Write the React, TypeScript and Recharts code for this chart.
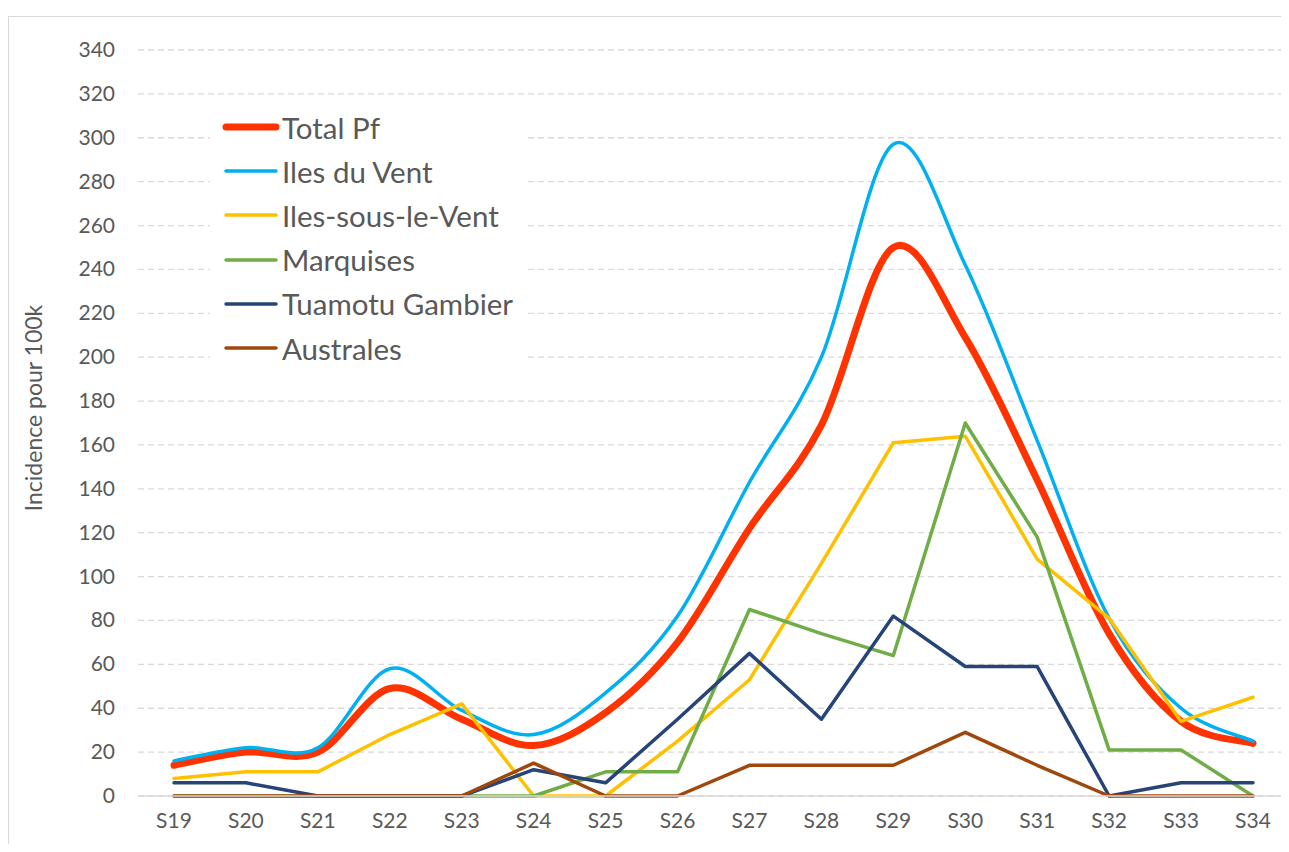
import { LineChart, Line, XAxis, YAxis, CartesianGrid, Legend } from 'recharts'

const weeks = ['S19', 'S20', 'S21', 'S22', 'S23', 'S24', 'S25', 'S26', 'S27', 'S28', 'S29', 'S30', 'S31', 'S32', 'S33', 'S34']
const totalPf = [14, 20, 20, 49, 35, 23, 38, 70, 122, 169, 250, 209, 144, 74, 34, 24]
const ilesDuVent = [16, 22, 22, 58, 39, 28, 47, 82, 143, 200, 297, 242, 162, 81, 40, 25]
const ilesSousLeVent = [8, 11, 11, 28, 42, 0, 0, 25, 53, 106, 161, 164, 108, 81, 34, 45]
const marquises = [0, 0, 0, 0, 0, 0, 11, 11, 85, 74, 64, 170, 118, 21, 21, 0]
const tuamotuGambier = [6, 6, 0, 0, 0, 12, 6, 35, 65, 35, 82, 59, 59, 0, 6, 6]
const australes = [0, 0, 0, 0, 0, 15, 0, 0, 14, 14, 14, 29, 14, 0, 0, 0]
const yTicks = [0, 20, 40, 60, 80, 100, 120, 140, 160, 180, 200, 220, 240, 260, 280, 300, 320, 340]

const SERIES = [
  { key: 'total', name: 'Total Pf', color: '#FF3300', width: 7, smooth: true, values: totalPf },
  { key: 'idv', name: 'Iles du Vent', color: '#00B0F0', width: 3.5, smooth: true, values: ilesDuVent },
  { key: 'islv', name: 'Iles-sous-le-Vent', color: '#FFC000', width: 3.5, smooth: false, values: ilesSousLeVent },
  { key: 'marq', name: 'Marquises', color: '#70AD47', width: 3.5, smooth: false, values: marquises },
  { key: 'tg', name: 'Tuamotu Gambier', color: '#264478', width: 3.5, smooth: false, values: tuamotuGambier },
  { key: 'aus', name: 'Australes', color: '#9E480E', width: 3.5, smooth: false, values: australes },
]

const data = weeks.map((w, i) => {
  const row: Record<string, string | number> = { week: w }
  for (const s of SERIES) row[s.key] = s.values[i]
  return row
})

// excel-style smoothing (catmull-rom through the points)
function excelSmooth(context: any) {
  let pts: number[][] = []
  return {
    areaStart() {},
    areaEnd() {},
    lineStart() { pts = [] },
    point(x: number, y: number) { pts.push([+x, +y]) },
    lineEnd() {
      if (!pts.length) return
      context.moveTo(pts[0][0], pts[0][1])
      for (let i = 0; i < pts.length - 1; i++) {
        const p0 = pts[i - 1] ?? pts[i]
        const p1 = pts[i]
        const p2 = pts[i + 1]
        const p3 = pts[i + 2] ?? p2
        context.bezierCurveTo(
          p1[0] + (p2[0] - p0[0]) / 6, p1[1] + (p2[1] - p0[1]) / 6,
          p2[0] - (p3[0] - p1[0]) / 6, p2[1] - (p3[1] - p1[1]) / 6,
          p2[0], p2[1],
        )
      }
    },
  }
}

const FONT = 'Lato, "Open Sans", sans-serif'
const TEXT = '#595959'

function LegendBox() {
  return (
    <div style={{ background: '#fff', width: 318, height: 265, fontFamily: FONT }}>
      {SERIES.map((s, i) => (
        <div key={s.key} style={{ position: 'absolute', top: 22 + i * 44.2 - 20, left: 0, height: 40, display: 'flex', alignItems: 'center' }}>
          <svg width={72} height={40} style={{ display: 'block' }}>
            <line x1={16} x2={66} y1={20} y2={20} stroke={s.color} strokeWidth={s.width} strokeLinecap="round" />
          </svg>
          <span style={{ fontSize: 29.5, color: TEXT, marginLeft: 0, whiteSpace: 'nowrap' }}>{s.name}</span>
        </div>
      ))}
    </div>
  )
}

function YTitle() {
  return (
    <text x={33} y={408} transform="rotate(-90 33 408)" textAnchor="middle" dominantBaseline="central"
      fill={TEXT} fontSize={23} fontFamily={FONT}>
      Incidence pour 100k
    </text>
  )
}

function XTick({ x, y, payload }: any) {
  return (
    <text x={x} y={y + 32} textAnchor="middle" fill={TEXT} fontSize={21} fontFamily={FONT}>{payload.value}</text>
  )
}

function YTick({ x, y, payload }: any) {
  return (
    <text x={x} y={y + 7} textAnchor="end" fill={TEXT} fontSize={21} fontFamily={FONT}>{payload.value}</text>
  )
}

export default function App() {
  return (
    <div style={{ position: 'relative', margin: -8, width: 1289, height: 852, background: '#fff', overflow: 'hidden' }}>
      <div style={{ position: 'absolute', left: 8, top: 16, width: 1280, height: 860, border: '1.5px solid #d9d9d9', boxSizing: 'border-box' }} />
      <LineChart width={1289} height={852} data={data} margin={{ top: 50, right: 0, bottom: 16, left: 0 }}>
        <CartesianGrid vertical={false} stroke="#d9d9d9" strokeDasharray="6 4" strokeWidth={1.3} />
        <XAxis
          dataKey="week"
          padding={{ left: 36, right: 36 }}
          height={40}
          tickLine={false}
          axisLine={{ stroke: '#d9d9d9', strokeWidth: 1.3 }}
          tickSize={0}
          tickMargin={0}
          tick={<XTick />}
          interval={0}
        />
        <YAxis
          width={138}
          domain={[0, 340]}
          ticks={yTicks}
          interval={0}
          axisLine={false}
          tickLine={false}
          tickSize={0}
          tickMargin={23}
          tick={<YTick />}
          label={{ content: () => <YTitle /> }}
        />
        <Legend
          layout="vertical"
          align="center"
          verticalAlign="middle"
          wrapperStyle={{ left: 210, top: 105, width: 318, height: 265 }}
          content={() => <LegendBox />}
        />
        {SERIES.map((s) => (
          <Line
            key={s.key}
            dataKey={s.key}
            name={s.name}
            type={s.smooth ? (excelSmooth as any) : 'linear'}
            stroke={s.color}
            strokeWidth={s.width}
            strokeLinejoin="round"
            strokeLinecap="round"
            dot={false}
            activeDot={false}
            isAnimationActive={false}
          />
        ))}
      </LineChart>
    </div>
  )
}
